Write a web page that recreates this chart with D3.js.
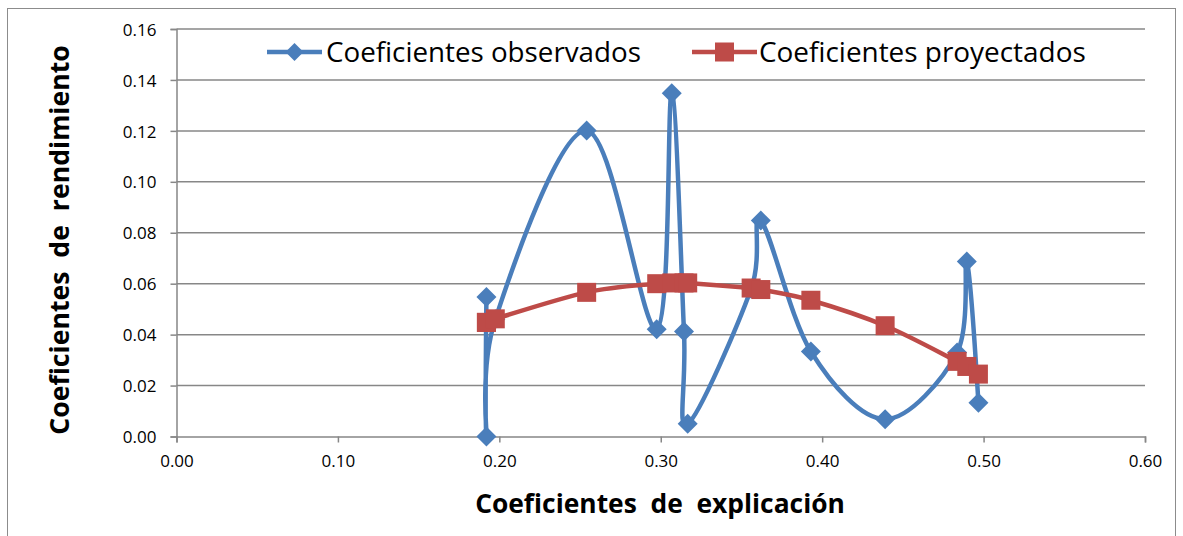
<!DOCTYPE html>
<html>
<head>
<meta charset="utf-8">
<script src="https://cdn.jsdelivr.net/npm/d3@7"></script>
<style>
  html, body { margin: 0; padding: 0; background: #fff; }
  svg text { font-family: "Open Sans", "Noto Sans", sans-serif; fill: #000; white-space: pre; }
</style>
</head>
<body>
<svg id="chart" width="1183" height="536"></svg>
<script>
// Explanation coefficients (x) shared by both series
const xValues = [0.192, 0.192, 0.1975, 0.2541, 0.2975, 0.3068, 0.3144, 0.3167, 0.356, 0.362, 0.393, 0.439, 0.4836, 0.4896, 0.4968];
// Observed performance coefficients
const observed = [0.0548, 0.000, 0.046, 0.1201, 0.0421, 0.1348, 0.0412, 0.0050, 0.058, 0.0848, 0.0334, 0.0068, 0.033, 0.0687, 0.0133];
// Projected performance coefficients
const projected = [0.0448, 0.0448, 0.0462, 0.0566, 0.0600, 0.0603, 0.0603, 0.0603, 0.0583, 0.0577, 0.0535, 0.0435, 0.0295, 0.0275, 0.0245];

const xTicks = [0, 0.1, 0.2, 0.3, 0.4, 0.5, 0.6];
const yTicks = [0, 0.02, 0.04, 0.06, 0.08, 0.10, 0.12, 0.14, 0.16];
const seriesNames = ["Coeficientes observados", "Coeficientes proyectados"];
const xTitle = "Coeficientes  de  explicación";
const yTitle = "Coeficientes  de  rendimiento";

const BLUE = "#4a7ebb", RED = "#be4b48", GRID = "#878787";

const svg = d3.select("#chart");

// chart frame (bottom edge runs past the canvas)
svg.append("rect")
  .attr("x", 7.5).attr("y", 8.5).attr("width", 1168).attr("height", 540)
  .attr("fill", "#fff").attr("stroke", "#8c8c8c").attr("stroke-width", 1);

const x = d3.scaleLinear().domain([0, 0.6]).range([176.5, 1145]);
const y = d3.scaleLinear().domain([0, 0.16]).range([436.5, 29]);

// horizontal gridlines
svg.append("g").selectAll("line")
  .data(yTicks.filter(d => d > 0))
  .join("line")
  .attr("x1", x(0)).attr("x2", x(0.6))
  .attr("y1", d => y(d)).attr("y2", d => y(d))
  .attr("stroke", GRID).attr("stroke-width", 1.5);

// y axis
const yAxis = svg.append("g")
  .attr("transform", `translate(${x(0)},0)`)
  .call(d3.axisLeft(y).tickValues(yTicks).tickSize(6).tickPadding(14).tickFormat(d3.format(".2f")));
// x axis
const xAxis = svg.append("g")
  .attr("transform", `translate(0,${y(0)})`)
  .call(d3.axisBottom(x).tickValues(xTicks).tickSize(6).tickPadding(12).tickFormat(d3.format(".2f")));

[yAxis, xAxis].forEach(g => {
  g.select(".domain").attr("stroke", GRID).attr("stroke-width", 1.5);
  g.selectAll(".tick line").attr("stroke", GRID).attr("stroke-width", 1.5);
  g.selectAll(".tick text").attr("font-size", 17).attr("font-family", "Open Sans").attr("fill", "#000");
});
yAxis.selectAll(".tick text").attr("dy", "0.36em");

const line = d3.line()
  .x(d => x(d[0])).y(d => y(d[1]))
  .curve(d3.curveCardinal.tension(0));

const diamond = "M0,-10L10,0L0,10L-10,0Z";

// observed series
const obsPts = xValues.map((v, i) => [v, observed[i]]);
svg.append("path").datum(obsPts)
  .attr("d", line).attr("fill", "none")
  .attr("stroke", BLUE).attr("stroke-width", 4.5).attr("stroke-linejoin", "round");
svg.append("g").selectAll("path")
  .data(obsPts).join("path")
  .attr("d", diamond)
  .attr("transform", d => `translate(${x(d[0])},${y(d[1])})`)
  .attr("fill", BLUE);

// projected series
const projPts = xValues.map((v, i) => [v, projected[i]]);
svg.append("path").datum(projPts)
  .attr("d", line).attr("fill", "none")
  .attr("stroke", RED).attr("stroke-width", 4.5).attr("stroke-linejoin", "round");
svg.append("g").selectAll("rect")
  .data(projPts).join("rect")
  .attr("x", d => x(d[0]) - 9.5).attr("y", d => y(d[1]) - 9.5)
  .attr("width", 19).attr("height", 19)
  .attr("fill", RED);

// fit a text element to a given width by scaling its font size
function fitWidth(t, w) {
  const len = t.node().getComputedTextLength();
  const fs = parseFloat(t.attr("font-size"));
  t.attr("font-size", fs * w / len);
}

// legend
const legend = [
  { name: seriesNames[0], color: BLUE, x0: 267, x1: 322, textX: 326, textW: 315, marker: "diamond" },
  { name: seriesNames[1], color: RED, x0: 692, x1: 757, textX: 759, textW: 327, marker: "square" }
];
const lg = svg.append("g");
legend.forEach(l => {
  const ly = 52;
  lg.append("line").attr("x1", l.x0).attr("x2", l.x1).attr("y1", ly).attr("y2", ly)
    .attr("stroke", l.color).attr("stroke-width", 4.5);
  const mx = (l.x0 + l.x1) / 2;
  if (l.marker === "diamond") {
    lg.append("path").attr("d", "M0,-9L9,0L0,9L-9,0Z")
      .attr("transform", `translate(${mx},${ly})`).attr("fill", l.color);
  } else {
    lg.append("rect").attr("x", mx - 9.5).attr("y", ly - 9.5).attr("width", 19).attr("height", 19)
      .attr("fill", l.color);
  }
  const t = lg.append("text").attr("x", l.textX).attr("y", ly).attr("dy", "0.35em")
    .attr("font-size", 24).text(l.name);
  fitWidth(t, l.textW);
});

// axis titles
const xt = svg.append("text")
  .attr("x", 660).attr("y", 513)
  .attr("text-anchor", "middle").attr("font-weight", "bold").attr("font-size", 22)
  .text(xTitle);
fitWidth(xt, 370);

const yt = svg.append("text")
  .attr("transform", "translate(69,240) rotate(-90)")
  .attr("text-anchor", "middle").attr("font-weight", "bold").attr("font-size", 22)
  .text(yTitle);
fitWidth(yt, 390);
</script>
</body>
</html>
